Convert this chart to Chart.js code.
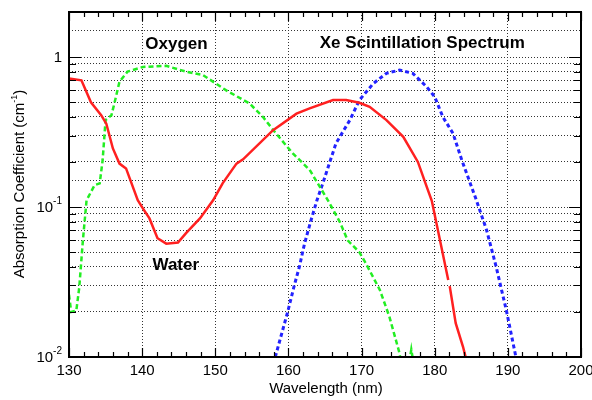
<!DOCTYPE html>
<html>
<head>
<meta charset="utf-8">
<script src="https://cdn.jsdelivr.net/npm/chart.js@4/dist/chart.umd.min.js"></script>
<style>
  html, body { margin: 0; padding: 0; background: #fff; }
  #wrap { width: 592px; height: 400px; }
</style>
</head>
<body>
<div id="wrap"><canvas id="c" width="592" height="400"></canvas></div>
<script>
// Absorption of water and oxygen vs. the Xe scintillation spectrum
const waterWl  = [130, 131.7, 133.0, 134.4, 135.1, 136.0, 136.9, 137.8, 139.4, 140.1, 141.0, 142.1, 143.3, 144.9, 146.0, 147.9, 149.7, 151.0, 152.9, 153.8, 157.9, 161.1, 162.9, 166.1, 167.9, 169.7, 171.1, 173.4, 175.7, 177.7, 178.9, 179.6, 181.85, 181.95, 182.05, 182.87, 183.87, 184.2];
const waterAbs = [0.72, 0.70, 0.50, 0.41, 0.36, 0.246, 0.195, 0.181, 0.111, 0.098, 0.084, 0.062, 0.057, 0.058, 0.067, 0.084, 0.111, 0.144, 0.195, 0.208, 0.326, 0.42, 0.455, 0.517, 0.517, 0.496, 0.466, 0.38, 0.294, 0.20, 0.137, 0.11, 0.0326, null, 0.0297, 0.0168, 0.0117, 0.0101];

const oxygenWl  = [130.0, 130.3, 131.0, 131.4, 131.9, 132.4, 133.5, 134.2, 134.6, 135.0, 135.8, 136.2, 136.9, 138.0, 140.1, 143.3, 146.0, 148.3, 151.5, 154.7, 156.5, 158.3, 160.6, 162.9, 165.4, 167.0, 168.1, 169.7, 170.6, 172.5, 173.8, 175.1, 175.6, 176.4, 176.8, 177.2];
const oxygenAbs = [0.026, 0.020, 0.0204, 0.029, 0.060, 0.111, 0.14, 0.144, 0.206, 0.38, 0.41, 0.49, 0.685, 0.80, 0.86, 0.875, 0.80, 0.76, 0.60, 0.49, 0.40, 0.31, 0.228, 0.177, 0.111, 0.080, 0.060, 0.050, 0.042, 0.028, 0.0186, 0.011, 0.0085, 0.0085, 0.0112, 0.0085];

const xeWl       = [158.2, 159.9, 160.8, 161.5, 162.2, 163.1, 163.9, 164.7, 166.5, 168.4, 169.7, 171.6, 173.4, 175.2, 177.0, 178.9, 180.0, 181.1, 182.5, 183.7, 185.7, 187.1, 188.4, 189.8, 191.1];
const xeSpectrum = [0.01, 0.020, 0.030, 0.040, 0.057, 0.082, 0.111, 0.144, 0.266, 0.38, 0.517, 0.667, 0.78, 0.82, 0.78, 0.634, 0.544, 0.40, 0.31, 0.206, 0.111, 0.070, 0.040, 0.0204, 0.01];

const xTickLabels = [130, 140, 150, 160, 170, 180, 190, 200];
const yTickLabels = [
  { value: 1,    base: '1',  exp: '' },
  { value: 0.1,  base: '10', exp: '-1' },
  { value: 0.01, base: '10', exp: '-2' }
];
const curveLabels = [
  { text: 'Oxygen', x: 144.7, y: 1.13 },
  { text: 'Water', x: 144.6, y: 0.038 },
  { text: 'Xe Scintillation Spectrum', x: 178.3, y: 1.15 }
];

const pts = (xs, ys) => xs.map((x, i) => ({ x: x, y: ys[i] }));

const FONT = "'Liberation Sans', Arial, Helvetica, sans-serif";

// Frame, inward tick marks, tick labels, axis titles and curve names
const framePlugin = {
  id: 'frame',
  afterDraw(chart) {
    const { ctx, chartArea: a, scales: { x, y } } = chart;
    ctx.save();
    ctx.strokeStyle = '#000';
    ctx.lineWidth = 1.2;
    ctx.beginPath();
    for (let v = 130; v <= 200; v += 2) {
      const px = Math.round(x.getPixelForValue(v)) + 0.5;
      const len = v % 10 === 0 ? 9 : 5;
      ctx.moveTo(px, a.bottom); ctx.lineTo(px, a.bottom - len);
      ctx.moveTo(px, a.top); ctx.lineTo(px, a.top + len);
    }
    [0.01, 0.1, 1].forEach(d => {
      for (let m = 1; m <= 9; m++) {
        const v = m * d;
        if (v > y.max + 1e-9) break;
        const py = Math.round(y.getPixelForValue(v)) + 0.5;
        const len = m === 1 ? 12 : 7;
        ctx.moveTo(a.left, py); ctx.lineTo(a.left + len, py);
        ctx.moveTo(a.right, py); ctx.lineTo(a.right - len, py);
      }
    });
    ctx.stroke();

    ctx.lineWidth = 2;
    ctx.strokeRect(a.left, a.top, a.right - a.left, a.bottom - a.top);

    ctx.fillStyle = '#000';
    ctx.font = '15px ' + FONT;
    ctx.textAlign = 'center';
    ctx.textBaseline = 'middle';
    xTickLabels.forEach(v => ctx.fillText(String(v), x.getPixelForValue(v), a.bottom + 14));

    yTickLabels.forEach(t => {
      const py = y.getPixelForValue(t.value);
      const right = a.left - 7;
      ctx.textBaseline = 'middle';
      if (t.exp) {
        ctx.font = '10px ' + FONT;
        ctx.textAlign = 'right';
        ctx.fillText(t.exp, right, py - 6);
        const w = ctx.measureText(t.exp).width;
        ctx.font = '15px ' + FONT;
        ctx.fillText(t.base, right - w, py + 1);
      } else {
        ctx.font = '15px ' + FONT;
        ctx.textAlign = 'right';
        ctx.fillText(t.base, right, py + 1);
      }
    });

    ctx.font = '15px ' + FONT;
    ctx.textAlign = 'center';
    ctx.textBaseline = 'middle';
    ctx.fillText('Wavelength (nm)', 326, 389);

    ctx.save();
    ctx.translate(20, 184);
    ctx.rotate(-Math.PI / 2);
    const t1 = 'Absorption Coefficient (cm';
    const sup = '-1';
    const t2 = ')';
    ctx.font = '15px ' + FONT;
    const w1 = ctx.measureText(t1).width, w3 = ctx.measureText(t2).width;
    ctx.font = '9px ' + FONT;
    const w2 = ctx.measureText(sup).width;
    const sx = -(w1 + w2 + w3) / 2;
    ctx.textAlign = 'left';
    ctx.font = '15px ' + FONT;
    ctx.fillText(t1, sx, 0);
    ctx.font = '9px ' + FONT;
    ctx.fillText(sup, sx + w1, -5);
    ctx.font = '15px ' + FONT;
    ctx.fillText(t2, sx + w1 + w2, 0);
    ctx.restore();

    ctx.font = 'bold 17px ' + FONT;
    ctx.textAlign = 'center';
    ctx.textBaseline = 'alphabetic';
    curveLabels.forEach(l => ctx.fillText(l.text, x.getPixelForValue(l.x), y.getPixelForValue(l.y)));
    ctx.restore();
  }
};

new Chart(document.getElementById('c'), {
  type: 'line',
  data: {
    datasets: [
      { label: 'Water', data: pts(waterWl, waterAbs), borderColor: '#ff2020', borderWidth: 2.5, pointRadius: 0, tension: 0, spanGaps: false },
      { label: 'Oxygen', data: pts(oxygenWl, oxygenAbs), borderColor: '#22ee22', borderWidth: 2.5, borderDash: [5, 3], pointRadius: 0, tension: 0 },
      { label: 'Xe Scintillation Spectrum', data: pts(xeWl, xeSpectrum), borderColor: '#2222ff', borderWidth: 3, borderDash: [4, 3], pointRadius: 0, tension: 0 }
    ]
  },
  options: {
    responsive: false,
    animation: false,
    events: [],
    layout: { padding: { left: 69, top: 12, right: 11, bottom: 43 } },
    plugins: { legend: { display: false }, tooltip: { enabled: false } },
    scales: {
      x: {
        type: 'linear', min: 130, max: 200,
        ticks: { display: false, stepSize: 10 },
        grid: { color: '#333', lineWidth: 1, drawTicks: false },
        border: { display: false, dash: [1, 2] }
      },
      y: {
        type: 'logarithmic', min: 0.01, max: 2,
        ticks: { display: false },
        grid: { color: '#333', lineWidth: 1, drawTicks: false },
        border: { display: false, dash: [1, 2] }
      }
    }
  },
  plugins: [framePlugin]
});
</script>
</body>
</html>
